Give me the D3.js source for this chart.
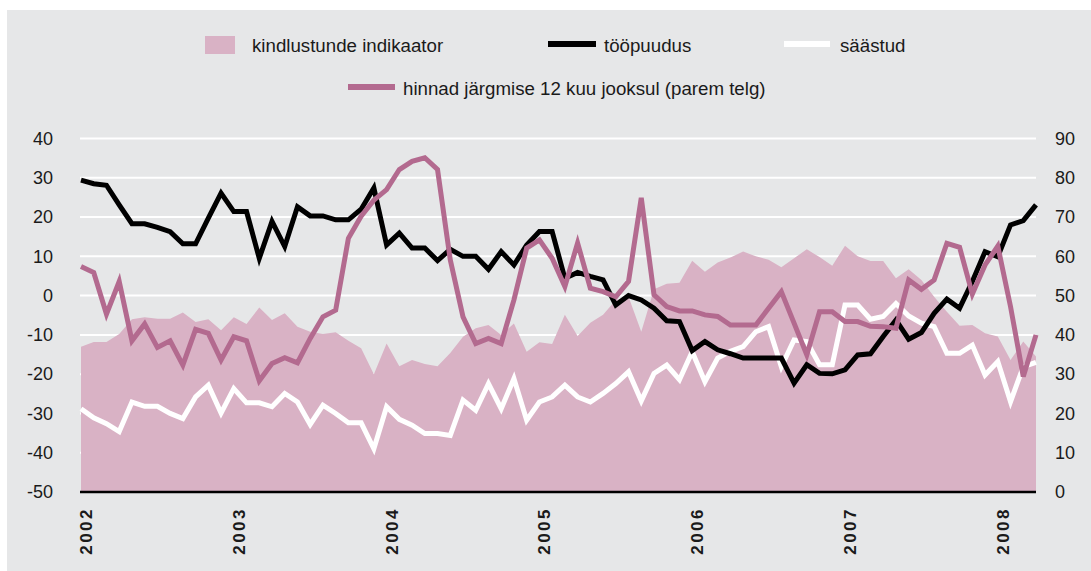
<!DOCTYPE html>
<html>
<head>
<meta charset="utf-8">
<script src="https://cdn.jsdelivr.net/npm/d3@7"></script>
<style>
    body { margin: 0; background: white; }
    svg { display: block; font-family: "Liberation Sans", Arial, Helvetica, sans-serif; }
</style>
</head>
<body>
<div id="viz_canvas"></div>
<script>
"use strict";

// monthly, Jan 2002 .. Apr 2008
var years = ["2002", "2003", "2004", "2005", "2006", "2007", "2008"];

// kindlustunde indikaator (left axis)
var confidence = [-13.0, -11.8, -11.8, -9.8, -6.0, -5.5, -5.9, -5.9, -4.3, -6.7, -6.0, -8.8,
    -5.5, -7.2, -3.0, -6.2, -4.5, -7.9, -9.2, -9.8, -9.3, -11.5, -13.4, -20.0,
    -12.2, -18.0, -16.4, -17.4, -18.0, -14.6, -10.5, -8.3, -7.5, -10.0, -7.1, -14.3,
    -11.9, -12.3, -4.9, -10.3, -6.9, -4.9, -1.1, -0.3, -9.2, 1.6, 3.0, 3.3,
    8.9, 6.1, 8.4, 9.7, 11.2, 10.0, 9.1, 7.2, 9.5, 11.8, 9.8, 7.6,
    12.7, 10.0, 8.8, 8.8, 4.4, 6.7, 4.0, -0.3, -4.1, -7.7, -7.5, -9.6,
    -10.4, -16.4, -11.7, -15.5];

// tööpuudus (left axis)
var unemployment = [29.4, 28.5, 28.1, 23.1, 18.3, 18.3, 17.4, 16.3, 13.2, 13.2, 19.7, 26.1,
    21.4, 21.4, 9.5, 18.9, 12.5, 22.6, 20.3, 20.3, 19.3, 19.3, 22.0, 27.4,
    12.9, 15.9, 12.1, 12.1, 8.9, 11.8, 10.0, 10.0, 6.7, 11.2, 7.8, 12.9,
    16.3, 16.3, 4.4, 5.9, 4.9, 4.0, -2.4, 0.0, -1.1, -3.2, -6.4, -6.6,
    -14.0, -11.7, -13.8, -14.8, -15.9, -15.9, -15.9, -15.9, -22.3, -17.6, -19.8, -19.9,
    -18.9, -15.1, -14.8, -10.4, -6.2, -11.1, -9.4, -4.5, -0.9, -3.2, 3.6, 11.2,
    9.9, 18.0, 19.1, 23.1];

// säästud (left axis)
var savings = [-28.8, -31.1, -32.6, -34.6, -27.1, -28.2, -28.2, -30.0, -31.3, -25.8, -22.8, -29.9,
    -23.7, -27.3, -27.3, -28.3, -24.9, -27.1, -32.8, -27.9, -30.0, -32.4, -32.4, -39.0,
    -28.3, -31.5, -33.0, -35.1, -35.1, -35.6, -26.6, -29.2, -22.4, -28.8, -21.1, -31.7,
    -27.1, -25.8, -22.8, -25.8, -27.1, -24.9, -22.4, -19.4, -26.8, -19.8, -17.7, -21.4,
    -14.3, -21.9, -15.9, -14.2, -13.0, -9.2, -7.9, -18.1, -11.3, -11.7, -17.6, -17.6,
    -2.4, -2.4, -6.0, -5.3, -2.0, -5.2, -7.0, -7.9, -14.7, -14.7, -12.6, -20.2,
    -16.8, -27.0, -18.1, -17.0];

// hinnad järgmise 12 kuu jooksul (right axis)
var prices = [57.4, 55.9, 45.3, 53.6, 38.5, 42.8, 36.8, 38.5, 32.3, 41.4, 40.4, 33.6,
    39.5, 38.5, 28.3, 32.7, 34.2, 32.9, 39.1, 44.6, 46.3, 64.6, 70.2, 74.3,
    77.0, 82.1, 84.2, 85.1, 82.1, 59.1, 44.6, 37.8, 39.1, 37.8, 48.9, 62.1,
    64.2, 59.5, 52.3, 63.4, 51.9, 51.0, 49.7, 53.6, 74.9, 50.2, 47.2, 46.1,
    46.1, 45.1, 44.7, 42.5, 42.5, 42.5, 46.8, 51.0, 43.0, 34.9, 45.9, 45.9,
    43.4, 43.4, 42.2, 42.1, 41.7, 54.0, 51.6, 54.0, 63.3, 62.3, 50.4, 57.8,
    62.6, 47.2, 29.4, 40.0];

var leftTicks = d3.range(-50, 41, 10);
var rightTicks = d3.range(0, 91, 10);

var width = 1091, height = 571;
var colors = {
    bg: "#e6e7e8",
    area: "#d9b2c5",
    prices: "#b36a8f"
};

var svg = d3.select("#viz_canvas").append("svg")
    .attr("width", width)
    .attr("height", height);

svg.append("rect")
    .attr("x", 7).attr("y", 10)
    .attr("width", width - 7).attr("height", height - 10)
    .attr("fill", colors.bg);

var x = d3.scaleLinear().domain([0, confidence.length - 1]).range([81, 1036]);
var yLeft = d3.scaleLinear().domain([-50, 40]).range([492, 138.5]);
var yRight = d3.scaleLinear().domain([0, 90]).range([492, 138.5]);

// grid
svg.append("g")
    .selectAll("line")
    .data(leftTicks.filter(d => d > -50))
    .enter().append("line")
    .attr("x1", 80).attr("x2", 1036)
    .attr("y1", d => yLeft(d)).attr("y2", d => yLeft(d))
    .attr("stroke", "white")
    .attr("stroke-width", 2);

// area
var area = d3.area()
    .x((d, i) => x(i))
    .y0(yLeft(-50))
    .y1(d => yLeft(d));

svg.append("path")
    .datum(confidence)
    .attr("d", area)
    .attr("fill", colors.area);

function drawLine(values, scale, color) {
    var line = d3.line()
        .x((d, i) => x(i))
        .y(d => scale(d));
    svg.append("path")
        .datum(values)
        .attr("d", line)
        .attr("fill", "none")
        .attr("stroke", color)
        .attr("stroke-width", 5);
}

drawLine(savings, yLeft, "white");
drawLine(unemployment, yLeft, "black");
drawLine(prices, yRight, colors.prices);

// x axis line
svg.append("line")
    .attr("x1", 80).attr("x2", 1036)
    .attr("y1", yLeft(-50)).attr("y2", yLeft(-50))
    .attr("stroke", "black")
    .attr("stroke-width", 2.5);

// y axes (plain hyphen for negatives, as in the original)
var leftAxis = svg.append("g")
    .attr("transform", "translate(81,0)")
    .call(d3.axisLeft(yLeft).tickValues(leftTicks).tickSize(0).tickPadding(28)
        .tickFormat(d => String(d)));
var rightAxis = svg.append("g")
    .attr("transform", "translate(1036,0)")
    .call(d3.axisRight(yRight).tickValues(rightTicks).tickSize(0).tickPadding(19)
        .tickFormat(d => String(d)));

[leftAxis, rightAxis].forEach(function (ax) {
    ax.select(".domain").remove();
    ax.selectAll("text")
        .attr("font-family", "Liberation Sans, Arial, sans-serif")
        .attr("font-size", 18)
        .attr("fill", "#1a1a1a");
});

// year labels
svg.append("g")
    .selectAll("text")
    .data(years)
    .enter().append("text")
    .attr("transform", (d, i) => "translate(" + (x(i * 12) + 5) + ",507) rotate(-90)")
    .attr("text-anchor", "end")
    .attr("dy", "0.35em")
    .attr("font-size", 17)
    .attr("font-weight", "bold")
    .attr("letter-spacing", 2.5)
    .attr("fill", "#1a1a1a")
    .text(d => d);

// legend
var legend = svg.append("g").attr("font-size", 18.7).attr("fill", "#1a1a1a");

legend.append("rect")
    .attr("x", 205).attr("y", 36).attr("width", 30).attr("height", 18)
    .attr("fill", colors.area);
legend.append("text").attr("x", 252).attr("y", 51.5).text("kindlustunde indikaator");

legend.append("line")
    .attr("x1", 548).attr("x2", 596).attr("y1", 44).attr("y2", 44)
    .attr("stroke", "black").attr("stroke-width", 6);
legend.append("text").attr("x", 604).attr("y", 51.5).text("tööpuudus");

legend.append("line")
    .attr("x1", 784).attr("x2", 830).attr("y1", 44).attr("y2", 44)
    .attr("stroke", "white").attr("stroke-width", 6);
legend.append("text").attr("x", 840).attr("y", 51.5).text("säästud");

legend.append("line")
    .attr("x1", 348).attr("x2", 395).attr("y1", 87).attr("y2", 87)
    .attr("stroke", colors.prices).attr("stroke-width", 6);
legend.append("text").attr("x", 403).attr("y", 94.5).text("hinnad järgmise 12 kuu jooksul (parem telg)");
</script>
</body>
</html>
